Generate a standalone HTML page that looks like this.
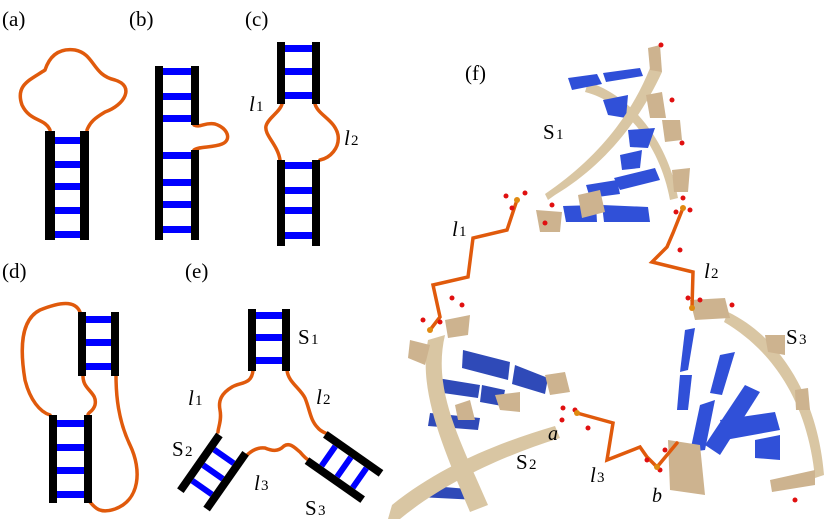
<!DOCTYPE html>
<html><head><meta charset="utf-8"><style>
html,body{margin:0;padding:0;background:#fff}
svg{display:block}
text{font-family:"Liberation Serif",serif;fill:#000}
</style></head><body>
<svg width="827" height="519" viewBox="0 0 827 519" xmlns="http://www.w3.org/2000/svg">
<g font-size="21">
<text x="2" y="26">(a)</text><text x="129" y="26">(b)</text><text x="245" y="26">(c)</text>
<text x="2" y="278">(d)</text><text x="185" y="278">(e)</text>
<text x="465" y="80">(f)</text>
</g>
<g fill="none" stroke="#e05a0c" stroke-width="3.5" stroke-linecap="round">
<path d="M50,130 C45,118 30,122 22,105 C15,85 30,80 45,70 C50,55 60,48 75,50 C95,54 92,75 115,80 C135,86 125,105 105,112 C95,118 90,122 87,130"/>
<path d="M194,125 C200,128 205,122 215,124 C228,128 232,140 222,144 C212,148 200,146 194,150"/>
<path d="M282,104 C280,112 268,118 266,126 C264,135 278,145 280,160"/>
<path d="M315,104 C318,115 335,120 338,135 C340,148 330,158 320,160"/>
<path d="M80,312 C75,300 60,302 40,310 C20,320 20,350 25,380 C30,400 40,412 50,415"/>
<path d="M83,375 C82,390 98,392 95,405 C93,412 88,412 88,415"/>
<path d="M116,375 C116,395 118,420 130,445 C142,470 140,500 115,509 C100,514 95,508 90,502"/>
<path d="M253,370 C252,385 240,382 232,387 C222,393 218,400 220,410 C222,420 218,428 218,432"/>
<path d="M287,370 C288,382 300,388 305,398 C310,410 310,420 318,428 C322,433 328,433 330,436"/>
<path d="M246,456 C252,450 258,447 265,448 C272,451 278,452 284,446 C290,442 295,448 300,452 C305,458 308,460 310,461"/>
</g>
<g fill="#0000ff">
<rect x="55" y="137" width="25" height="7"/><rect x="55" y="161" width="25" height="7"/><rect x="55" y="183" width="25" height="7"/><rect x="55" y="207" width="25" height="7"/><rect x="55" y="231" width="25" height="7"/>
<rect x="163" y="68" width="28" height="7"/><rect x="163" y="93" width="28" height="7"/><rect x="163" y="115" width="28" height="7"/><rect x="163" y="152" width="28" height="7"/><rect x="163" y="179" width="28" height="7"/><rect x="163" y="201" width="28" height="7"/><rect x="163" y="226" width="28" height="7"/>
<rect x="285" y="45" width="28" height="7"/><rect x="285" y="68" width="28" height="7"/><rect x="285" y="92" width="28" height="7"/>
<rect x="285" y="162" width="28" height="7"/><rect x="285" y="187" width="28" height="7"/><rect x="285" y="207" width="28" height="7"/><rect x="285" y="232" width="28" height="7"/>
<rect x="86" y="316" width="25" height="7"/><rect x="86" y="339" width="25" height="7"/><rect x="86" y="363" width="25" height="7"/>
<rect x="57" y="420" width="27" height="7"/><rect x="57" y="444" width="27" height="7"/><rect x="57" y="467" width="27" height="7"/><rect x="57" y="491" width="27" height="7"/>
<rect x="256" y="312" width="26" height="7"/><rect x="256" y="334" width="26" height="7"/><rect x="256" y="357" width="26" height="7"/>
</g>
<g fill="#000">
<rect x="45" y="131" width="10" height="109"/><rect x="80" y="131" width="9" height="109"/>
<rect x="155" y="66" width="8" height="174"/><rect x="191" y="66" width="8" height="59"/><rect x="191" y="150" width="8" height="90"/>
<rect x="277" y="42" width="8" height="62"/><rect x="312" y="42" width="8" height="62"/>
<rect x="277" y="160" width="8" height="86"/><rect x="312" y="160" width="8" height="86"/>
<rect x="78" y="312" width="8" height="64"/><rect x="111" y="312" width="8" height="64"/>
<rect x="49" y="415" width="8" height="88"/><rect x="84" y="415" width="8" height="88"/>
<rect x="248" y="309" width="8" height="62"/><rect x="282" y="309" width="8" height="62"/>
</g>
<g transform="translate(213,472) rotate(35)">
<rect x="-12" y="-22" width="24" height="6" fill="#0000ff"/><rect x="-12" y="-3" width="24" height="6" fill="#0000ff"/><rect x="-12" y="16" width="24" height="6" fill="#0000ff"/>
<rect x="-20" y="-34" width="8" height="68" fill="#000"/><rect x="12" y="-34" width="8" height="68" fill="#000"/>
</g>
<g transform="translate(344,467) rotate(-55)">
<rect x="-12" y="-22" width="24" height="6" fill="#0000ff"/><rect x="-12" y="-3" width="24" height="6" fill="#0000ff"/><rect x="-12" y="16" width="24" height="6" fill="#0000ff"/>
<rect x="-20" y="-34" width="8" height="68" fill="#000"/><rect x="12" y="-34" width="8" height="68" fill="#000"/>
</g>
<g stroke="none">
<path d="M588,82 C630,95 668,140 678,198 L670,200 C660,145 625,102 585,92 Z" fill="#d9c6a3"/>
<path d="M568,78 L597,74 L602,84 L572,90 Z" fill="#2f4fd8"/>
<path d="M603,73 L640,68 L643,76 L606,82 Z" fill="#2f4fd8"/>
<path d="M603,100 L628,95 L626,118 L608,115 Z" fill="#3050d8"/>
<path d="M628,130 L655,128 L648,148 L630,147 Z" fill="#3050d8"/>
<path d="M620,155 L642,150 L640,168 L622,170 Z" fill="#3050d8"/>
<path d="M614,178 L655,168 L660,180 L620,190 Z" fill="#3050d8"/>
<path d="M586,185 L617,180 L620,194 L590,198 Z" fill="#3050d8"/>
<path d="M563,206 L596,205 L597,222 L566,222 Z" fill="#3050d8"/>
<path d="M602,205 L648,207 L650,222 L604,222 Z" fill="#3050d8"/>
<path d="M650,68 L662,72 C640,120 605,165 555,195 L548,200 L545,194 C595,160 630,118 650,68 Z" fill="#d9c6a3"/>
<path d="M648,48 L660,45 L662,72 L650,70 Z" fill="#cdb38f"/>
<path d="M646,95 L662,92 L666,118 L650,118 Z" fill="#cdb38f"/>
<path d="M662,120 L680,120 L682,140 L665,142 Z" fill="#cdb38f"/>
<path d="M672,170 L690,168 L688,192 L674,192 Z" fill="#cdb38f"/>
<path d="M578,195 L600,190 L605,212 L582,218 Z" fill="#cdb38f"/>
<path d="M536,210 L562,212 L560,232 L540,232 Z" fill="#cdb38f"/>
<path d="M463,350 L510,362 L508,380 L462,368 Z" fill="#2f4ab8"/>
<path d="M515,365 L548,378 L545,394 L512,384 Z" fill="#2f4ab8"/>
<path d="M437,378 L480,385 L478,398 L436,392 Z" fill="#2f4ab8"/>
<path d="M482,385 L505,390 L502,406 L480,402 Z" fill="#2f4ab8"/>
<path d="M430,413 L480,418 L478,430 L428,426 Z" fill="#2f4ab8"/>
<path d="M420,485 L480,490 L478,500 L418,497 Z" fill="#2f4ab8"/>
<path d="M428,340 L445,335 C432,390 460,440 488,505 L470,512 C442,445 418,390 428,340 Z" fill="#d9c6a3"/>
<path d="M392,505 C440,466 500,442 555,426 L560,438 C505,455 445,482 400,519 L388,519 Z" fill="#d9c6a3"/>
<path d="M410,340 L430,345 L425,365 L408,358 Z" fill="#cdb38f"/>
<path d="M495,395 L520,392 L520,412 L500,410 Z" fill="#cdb38f"/>
<path d="M455,405 L470,400 L475,420 L458,420 Z" fill="#cdb38f"/>
<path d="M545,375 L565,372 L570,392 L550,395 Z" fill="#cdb38f"/>
<path d="M445,320 L470,315 L468,335 L448,338 Z" fill="#cdb38f"/>
<path d="M685,330 L695,328 L688,370 L680,372 Z" fill="#3050d8"/>
<path d="M680,375 L692,375 L688,410 L677,410 Z" fill="#3050d8"/>
<path d="M720,355 L735,352 L722,395 L710,393 Z" fill="#3050d8"/>
<path d="M700,405 L715,400 L705,450 L690,452 Z" fill="#3050d8"/>
<path d="M745,385 L760,392 L720,455 L705,445 Z" fill="#3050d8"/>
<path d="M720,420 L775,412 L780,430 L725,440 Z" fill="#3050d8"/>
<path d="M755,440 L780,435 L780,460 L755,458 Z" fill="#3050d8"/>
<path d="M728,312 C782,338 818,400 824,475 L815,478 C808,405 775,352 724,322 Z" fill="#d9c6a3"/>
<path d="M690,300 L725,298 L730,318 L695,320 Z" fill="#cdb38f"/>
<path d="M668,440 L700,445 L705,495 L670,490 Z" fill="#cdb38f"/>
<path d="M770,480 L815,470 L815,485 L772,492 Z" fill="#cdb38f"/>
<path d="M765,335 L785,335 L785,355 L768,352 Z" fill="#cdb38f"/>
<path d="M795,390 L808,388 L810,410 L796,410 Z" fill="#cdb38f"/>
</g>
<g fill="none" stroke="#e05a0c" stroke-width="3.5" stroke-linecap="round" stroke-linejoin="miter">
<path d="M517,200 L507,230 L473,238 L468,277 L433,285 L440,317 L430,330"/>
<path d="M683,208 L673,233 L667,247 L652,262 L693,272 L692,308"/>
<path d="M577,413 L613,423 L607,460 L640,447 L647,457 L657,467 L677,443"/>
</g>
<g fill="#e01010">
<circle cx="506" cy="196" r="2.5"/><circle cx="525" cy="193" r="2.5"/><circle cx="512" cy="208" r="2.5"/><circle cx="545" cy="223" r="2.5"/><circle cx="552" cy="205" r="2.5"/>
<circle cx="676" cy="212" r="2.5"/><circle cx="690" cy="210" r="2.5"/><circle cx="680" cy="250" r="2.5"/><circle cx="661" cy="45" r="2.5"/>
<circle cx="672" cy="100" r="2.5"/><circle cx="682" cy="143" r="2.5"/><circle cx="683" cy="198" r="2.5"/>
<circle cx="452" cy="298" r="2.5"/><circle cx="462" cy="305" r="2.5"/><circle cx="423" cy="320" r="2.5"/><circle cx="440" cy="322" r="2.5"/>
<circle cx="563" cy="408" r="2.5"/><circle cx="575" cy="410" r="2.5"/><circle cx="588" cy="428" r="2.5"/><circle cx="562" cy="420" r="2.5"/>
<circle cx="688" cy="298" r="2.5"/><circle cx="700" cy="300" r="2.5"/><circle cx="732" cy="305" r="2.5"/>
<circle cx="647" cy="460" r="2.5"/><circle cx="660" cy="470" r="2.5"/><circle cx="665" cy="450" r="2.5"/><circle cx="795" cy="500" r="2.5"/>
</g>
<g fill="#e08a10"><circle cx="517" cy="200" r="3"/><circle cx="683" cy="208" r="3"/><circle cx="430" cy="330" r="3"/><circle cx="692" cy="308" r="3"/><circle cx="577" cy="413" r="3"/><circle cx="657" cy="467" r="3"/></g>
<g font-size="21">
<text x="249" y="111" font-style="italic">l</text><text x="256" y="111" font-size="15">1</text>
<text x="344" y="145" font-style="italic">l</text><text x="351" y="145" font-size="15">2</text>
<text x="188" y="405" font-style="italic">l</text><text x="195" y="405" font-size="15">1</text>
<text x="316" y="404" font-style="italic">l</text><text x="323" y="404" font-size="15">2</text>
<text x="254" y="490" font-style="italic">l</text><text x="261" y="490" font-size="15">3</text>
<text x="298" y="344">S</text><text x="311" y="344" font-size="15">1</text>
<text x="172" y="456">S</text><text x="185" y="456" font-size="15">2</text>
<text x="305" y="515">S</text><text x="318" y="515" font-size="15">3</text>
<text x="543" y="139">S</text><text x="556" y="139" font-size="15">1</text>
<text x="452" y="236" font-style="italic">l</text><text x="459" y="236" font-size="15">1</text>
<text x="704" y="278" font-style="italic">l</text><text x="711" y="278" font-size="15">2</text>
<text x="786" y="344">S</text><text x="799" y="344" font-size="15">3</text>
<text x="516" y="469">S</text><text x="529" y="469" font-size="15">2</text>
<text x="590" y="482" font-style="italic">l</text><text x="597" y="482" font-size="15">3</text>
<text x="548" y="440" font-family="Liberation Sans,sans-serif" font-style="italic" font-size="20">a</text>
<text x="652" y="502" font-family="Liberation Sans,sans-serif" font-style="italic" font-size="20">b</text>
</g>
</svg>
</body></html>
